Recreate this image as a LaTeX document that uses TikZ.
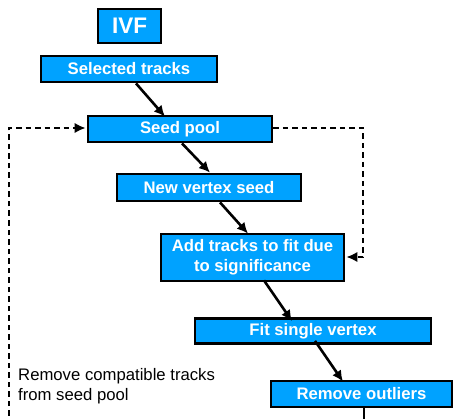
\documentclass[tikz,border=0pt]{standalone}
\usepackage{fontspec}
\setmainfont{Liberation Sans}
\usetikzlibrary{arrows.meta}
\definecolor{boxblue}{RGB}{0,162,255}
\tikzset{
  box/.style={draw=black, line width=2.8pt, fill=boxblue, text=white,
    font=\fontsize{16.7}{20}\selectfont\bfseries, inner sep=0pt, align=center},
  tip/.style={-{Latex[length=11pt,width=10.5pt]}},
  flow/.style={line width=2.6pt, tip},
  loop/.style={line width=2.8pt, dash pattern=on 5.5pt off 4pt},
}
\begin{document}
\begin{tikzpicture}[x=1pt,y=-1pt]
\useasboundingbox (0,0) rectangle (454,419);
\node[box, minimum width=63pt, minimum height=34pt, font=\fontsize{22.5}{26}\selectfont\bfseries] (ivf) at (129.5,26) {IVF};
\node[box, minimum width=176pt, minimum height=26pt] (sel) at (129,69) {Selected tracks};
\node[box, minimum width=184pt, minimum height=26pt] (seed) at (180,129) {Seed pool};
\node[box, minimum width=184pt, minimum height=27pt] (new) at (209,187.5) {New vertex seed};
\node[box, minimum width=183pt, minimum height=47pt] (add) at (252.5,257.5) {Add tracks to fit due\\to significance};
\node[box, minimum width=236pt, minimum height=25pt] (fit) at (313,331) {Fit single vertex};
\node[box, minimum width=181pt, minimum height=26pt] (rem) at (361.5,394) {Remove outliers};
\node[anchor=west, align=left, font=\fontsize{16.7}{19.5}\selectfont, inner sep=0pt] (txt) at (18,386) {Remove compatible tracks\\from seed pool};

\draw[flow] ([xshift=7pt]sel.south) -- ([xshift=-15pt,yshift=-2pt]seed.north);
\draw[flow] ([xshift=2pt]seed.south) -- ([xshift=1pt]new.north);
\draw[flow] ([xshift=11pt]new.south) -- ([xshift=-4.5pt,yshift=-1pt]add.north);
\draw[flow] ([xshift=11.5pt,yshift=2pt]add.south) -- ([xshift=-21pt,yshift=-4pt]fit.north);
\draw[flow] ([xshift=2pt,yshift=4pt]fit.south) -- ([xshift=-18.5pt,yshift=-2pt]rem.north);

\coordinate (lc) at (9,128);
\coordinate (lb) at (9,425);
\coordinate (rc) at (363,128);
\coordinate (rb) at (363,257);
\draw[loop] (lb) -- (lc) -- ([xshift=-10pt]seed.west |- lc);
\draw[line width=2.6pt, tip] ([xshift=-12pt]seed.west |- lc) -- ([xshift=-1pt]seed.west |- lc);
\draw[loop] (seed.east |- rc) -- (rc) -- (rb) -- ([xshift=10pt]add.east |- rb);
\draw[line width=2.6pt, tip] ([xshift=12pt]add.east |- rb) -- ([xshift=1pt]add.east |- rb);
\coordinate (rem-out) at (364,425);
\draw[line width=2.6pt] ([xshift=2.5pt]rem.south) -- (rem-out);
\end{tikzpicture}
\end{document}
